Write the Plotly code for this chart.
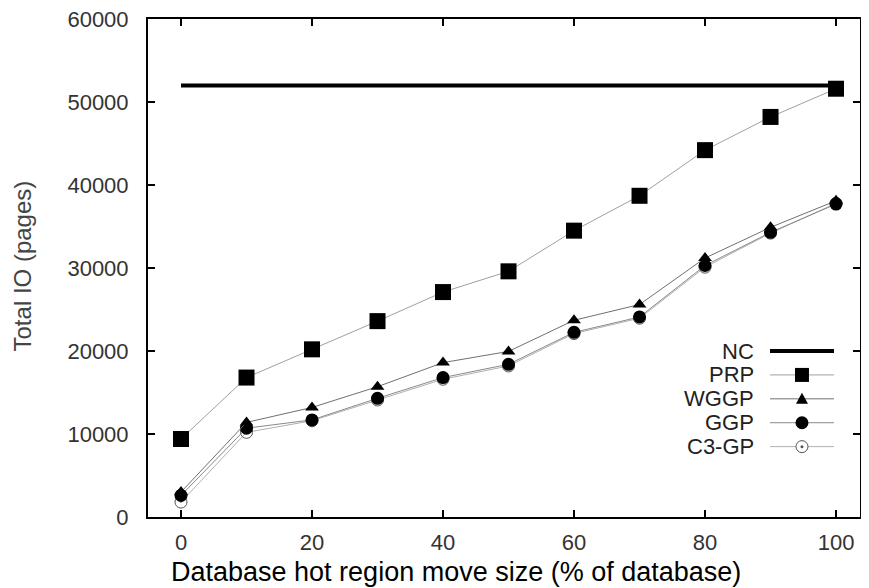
import plotly.graph_objects as go

x_vals = [0, 10, 20, 30, 40, 50, 60, 70, 80, 90, 100]
nc = [52000] * 11
prp = [9400, 16800, 20200, 23600, 27100, 29600, 34500, 38700, 44200, 48200, 51600]
wggp = [3000, 11400, 13200, 15700, 18600, 19950, 23700, 25600, 31200, 34900, 38100]
ggp = [2600, 10700, 11700, 14300, 16800, 18400, 22250, 24100, 30300, 34300, 37700]
c3gp = [1800, 10200, 11600, 14100, 16600, 18200, 22100, 23950, 30100, 34200, 37800]
x_ticks = [0, 20, 40, 60, 80, 100]
y_ticks = [0, 10000, 20000, 30000, 40000, 50000, 60000]
legend_names = ["NC", "PRP", "WGGP", "GGP", "C3-GP"]

FONT = "Liberation Sans, Arial, sans-serif"
fig = go.Figure()

fig.add_trace(go.Scatter(x=x_vals, y=c3gp, name="C3-GP", mode="lines+markers",
                         line=dict(color="#b0b0b0", width=1),
                         marker=dict(symbol="circle-open-dot", size=12, color="#555555",
                                     line=dict(width=1, color="#555555"))))
fig.add_trace(go.Scatter(x=x_vals, y=ggp, name="GGP", mode="lines+markers",
                         line=dict(color="#8a8a8a", width=1),
                         marker=dict(symbol="circle", size=13, color="black")))
fig.add_trace(go.Scatter(x=x_vals, y=wggp, name="WGGP", mode="lines+markers",
                         line=dict(color="#707070", width=1),
                         marker=dict(symbol="triangle-up", size=12, color="black")))
fig.add_trace(go.Scatter(x=x_vals, y=prp, name="PRP", mode="lines+markers",
                         line=dict(color="#a0a0a0", width=1),
                         marker=dict(symbol="square", size=16, color="black")))
fig.add_trace(go.Scatter(x=x_vals, y=nc, name="NC", mode="lines",
                         line=dict(color="black", width=4)))

axis_common = dict(showline=True, linecolor="black", linewidth=2, mirror="ticks",
                   ticks="inside", ticklen=7, tickcolor="black", tickwidth=1.5,
                   showgrid=False, zeroline=False, tickformat="d",
                   ticklabeloverflow="allow", automargin=False,
                   tickfont=dict(family=FONT, size=22, color="#333333"))

# ---- gnuplot-style legend (text left, sample right) ----
leg_text_x = 0.854
leg_x0, leg_x1, leg_xc = 0.8736, 0.9635, 0.9185
leg_y0, leg_dy = 0.3333, 0.0480
line_styles = [dict(color="black", width=4), dict(color="#a0a0a0", width=1),
               dict(color="#707070", width=1), dict(color="#8a8a8a", width=1),
               dict(color="#b0b0b0", width=1)]
annotations = []
shapes = []
for i, name in enumerate(legend_names):
    yy = leg_y0 - i * leg_dy
    annotations.append(dict(text=name, xref="paper", yref="paper", x=leg_text_x, y=yy,
                            xanchor="right", yanchor="middle", showarrow=False,
                            font=dict(family=FONT, size=22, color="#222222")))
    shapes.append(dict(type="line", xref="paper", yref="paper", x0=leg_x0, x1=leg_x1,
                       y0=yy, y1=yy, line=line_styles[i]))
    common = dict(xref="paper", yref="paper", xsizemode="pixel", ysizemode="pixel",
                  xanchor=leg_xc, yanchor=yy)
    if name == "PRP":
        shapes.append(dict(type="rect", x0=-7, x1=7, y0=-7, y1=7, fillcolor="black",
                           line=dict(width=0), **common))
    elif name == "WGGP":
        shapes.append(dict(type="path", path="M -6,-5 L 6,-5 L 0,6 Z", fillcolor="black",
                           line=dict(width=0), **common))
    elif name == "GGP":
        shapes.append(dict(type="circle", x0=-6.5, x1=6.5, y0=-6.5, y1=6.5, fillcolor="black",
                           line=dict(width=0), **common))
    elif name == "C3-GP":
        shapes.append(dict(type="circle", x0=-6, x1=6, y0=-6, y1=6, fillcolor="white",
                           line=dict(width=1, color="#555555"), **common))
        shapes.append(dict(type="circle", x0=-1.5, x1=1.5, y0=-1.5, y1=1.5, fillcolor="#555555",
                           line=dict(width=0), **common))

annotations += [
    dict(text="Database hot region move size (% of database)", xref="paper", yref="paper",
         x=0.4326, y=-0.111, xanchor="center", yanchor="middle", showarrow=False,
         font=dict(family=FONT, size=27, color="black")),
    dict(text="Total IO (pages)", xref="paper", yref="paper",
         x=-0.1756, y=0.505, xanchor="center", yanchor="middle", showarrow=False,
         textangle=-90, font=dict(family=FONT, size=24, color="#444444")),
]

fig.update_layout(
    width=861, height=580,
    margin=dict(l=140, r=9, t=11, b=71, autoexpand=False),
    paper_bgcolor="white", plot_bgcolor="white",
    showlegend=False,
    xaxis=dict(range=[-5.04, 103.66], tickvals=x_ticks, ticklabelstandoff=5, **axis_common),
    yaxis=dict(range=[0, 60000], tickvals=y_ticks, ticklabelstandoff=13, **axis_common),
    annotations=annotations,
    shapes=shapes,
)

fig.write_html("out.html")
